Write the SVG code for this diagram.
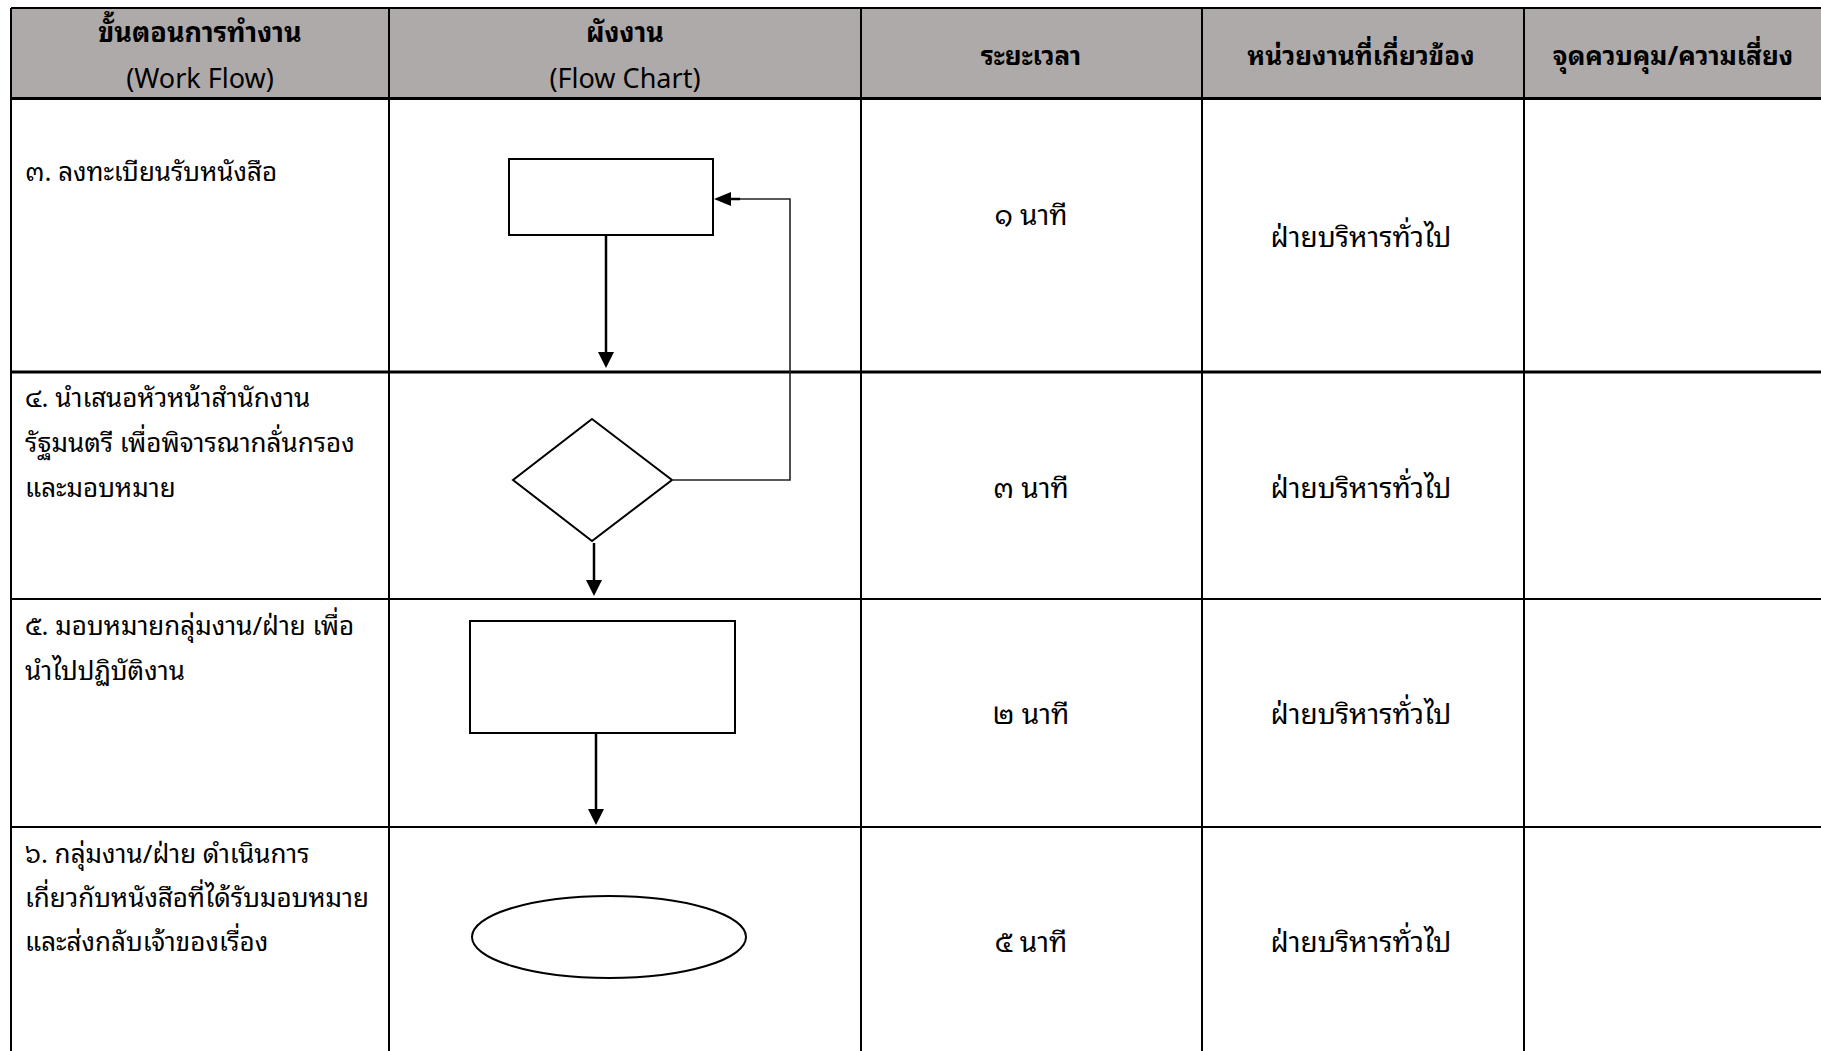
<svg xmlns="http://www.w3.org/2000/svg" width="1821" height="1051" viewBox="0 0 1821 1051">
<defs>
<style>
.grid{stroke:#000;stroke-width:2;fill:none}
.thick{stroke:#000;stroke-width:3;fill:none}
.shape{stroke:#000;stroke-width:2;fill:#fff}
.conn{stroke:#000;stroke-width:2.5;fill:none}
.fb{stroke:#222;stroke-width:1.6;fill:none}
.head{fill:#000}
text{font-family:"Noto Sans Thai Looped","Noto Sans Thai","Noto Sans Thai UI","Leelawadee UI",Tahoma,"Noto Sans","DejaVu Sans",sans-serif;fill:#000}
.h{font-size:27px;text-anchor:middle}
.hb{font-size:26px;text-anchor:middle;font-weight:bold}
.b{font-size:26px}
.c{font-size:28px;text-anchor:middle}
</style>
</defs>
<rect x="0" y="0" width="1821" height="1051" fill="#fff"/>
<g id="table">
<rect x="11" y="8" width="1810" height="90" fill="#aeaaaa"/>
<line class="grid" x1="11" y1="8" x2="1821" y2="8"/>
<line class="thick" x1="11" y1="98.5" x2="1821" y2="98.5"/>
<line class="thick" x1="11" y1="372" x2="1821" y2="372"/>
<line class="grid" x1="11" y1="599" x2="1821" y2="599"/>
<line class="grid" x1="11" y1="827" x2="1821" y2="827"/>
<line class="grid" x1="11" y1="8" x2="11" y2="1051"/>
<line class="grid" x1="389" y1="8" x2="389" y2="1051"/>
<line class="grid" x1="861" y1="8" x2="861" y2="1051"/>
<line class="grid" x1="1202" y1="8" x2="1202" y2="1051"/>
<line class="grid" x1="1524" y1="8" x2="1524" y2="1051"/>
</g>
<g id="header">
<text class="hb" x="200" y="42" style="font-size:27px">ขั้นตอนการทำงาน</text>
<text class="h" x="200" y="88">(Work Flow)</text>
<text class="hb" x="625" y="42" style="font-size:27px">ผังงาน</text>
<text class="h" x="625" y="88">(Flow Chart)</text>
<text class="hb" x="1031" y="65">ระยะเวลา</text>
<text class="hb" x="1361" y="65">หน่วยงานที่เกี่ยวข้อง</text>
<text class="hb" x="1673" y="65">จุดควบคุม/ความเสี่ยง</text>
</g>
<g id="steps">
<text class="b" x="25" y="181">๓. ลงทะเบียนรับหนังสือ</text>
<text class="b" x="25" y="407">๔. นำเสนอหัวหน้าสำนักงาน</text>
<text class="b" x="25" y="452">รัฐมนตรี เพื่อพิจารณากลั่นกรอง</text>
<text class="b" x="25" y="497">และมอบหมาย</text>
<text class="b" x="25" y="635">๕. มอบหมายกลุ่มงาน/ฝ่าย เพื่อ</text>
<text class="b" x="25" y="680">นำไปปฏิบัติงาน</text>
<text class="b" x="25" y="863">๖. กลุ่มงาน/ฝ่าย ดำเนินการ</text>
<text class="b" x="25" y="907">เกี่ยวกับหนังสือที่ได้รับมอบหมาย</text>
<text class="b" x="25" y="951">และส่งกลับเจ้าของเรื่อง</text>
</g>
<g id="times">
<text class="c" x="1031" y="225">๑ นาที</text>
<text class="c" x="1031" y="498">๓ นาที</text>
<text class="c" x="1031" y="724">๒ นาที</text>
<text class="c" x="1031" y="952">๕ นาที</text>
</g>
<g id="units">
<text class="c" x="1361" y="247">ฝ่ายบริหารทั่วไป</text>
<text class="c" x="1361" y="498">ฝ่ายบริหารทั่วไป</text>
<text class="c" x="1361" y="724">ฝ่ายบริหารทั่วไป</text>
<text class="c" x="1361" y="952">ฝ่ายบริหารทั่วไป</text>
</g>
<g id="node-register"><rect class="shape" x="509" y="159" width="204" height="76"/></g>
<g id="node-decision"><polygon class="shape" points="592,419 672,480 592,541 513,480"/></g>
<g id="node-assign"><rect class="shape" x="470" y="621" width="265" height="112"/></g>
<g id="node-end"><ellipse class="shape" cx="609" cy="937" rx="137" ry="41"/></g>
<g id="connectors">
<line class="conn" x1="606" y1="236" x2="606" y2="353"/>
<polygon class="head" points="606,368 598,352 614,352"/>
<polyline class="fb" points="673,480 790,480 790,199 730,199"/>
<line class="conn" x1="740" y1="199" x2="730" y2="199"/>
<polygon class="head" points="714,199 731,192 731,206"/>
<line class="conn" x1="594" y1="543" x2="594" y2="581"/>
<polygon class="head" points="594,596 586,580 602,580"/>
<line class="conn" x1="596" y1="733" x2="596" y2="810"/>
<polygon class="head" points="596,825 588,809 604,809"/>
</g>
</svg>
